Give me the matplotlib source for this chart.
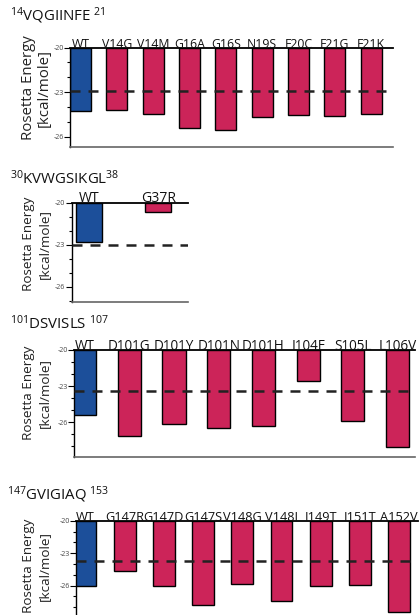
import matplotlib
matplotlib.use("Agg")
import matplotlib.pyplot as plt
from matplotlib import font_manager
from matplotlib.ticker import MultipleLocator, FixedLocator

plt.rcParams['font.family'] = ['Open Sans', 'DejaVu Sans']
plt.rcParams['mathtext.fontset'] = 'custom'
plt.rcParams['mathtext.rm'] = 'Open Sans'

_names = {f.name for f in font_manager.fontManager.ttflist}
if 'Liberation Sans Narrow' in _names:
    LAB_FAMILY, LAB_SCALE = ['Liberation Sans Narrow', 'DejaVu Sans'], 1.0
else:
    LAB_FAMILY, LAB_SCALE = ['Open Sans', 'DejaVu Sans'], 0.82

# ---- data ----
p1_title = r"$\mathregular{^{14}}$VQGIINFE $\mathregular{^{21}}$"
p1_labels = ["WT", "V14G", "V14M", "G16A", "G16S", "N19S", "F20C", "F21G", "F21K"]
p1_values = [-24.27, -24.2, -24.49, -25.39, -25.53, -24.7, -24.56, -24.58, -24.47]
p1_ref = -22.92

p2_title = r"$\mathregular{^{30}}$KVWGSIKGL$\mathregular{^{38}}$"
p2_labels = ["WT", "G37R"]
p2_values = [-22.84, -20.66]
p2_ref = -23.0

p3_title = r"$\mathregular{^{101}}$DSVISLS $\mathregular{^{107}}$"
p3_labels = ["WT", "D101G", "D101Y", "D101N", "D101H", "I104F", "S105L", "L106V"]
p3_values = [-25.43, -27.17, -26.15, -26.45, -26.3, -22.6, -25.93, -28.05]
p3_ref = -23.4

p4_title = r"$\mathregular{^{147}}$GVIGIAQ $\mathregular{^{153}}$"
p4_labels = ["WT", "G147R", "G147D", "G147S", "V148G", "V148I", "I149T", "I151T", "A152V"]
p4_values = [-26.0, -24.68, -26.05, -27.8, -25.84, -27.43, -26.05, -25.95, -28.41]
p4_ref = -23.7

WT_COLOR = "#1c4f9a"
MUT_COLOR = "#cc2459"

W, H = 420, 615
fig = plt.figure(figsize=(W / 100, H / 100), dpi=100)


def panel(left, right, top, bottom, ymin, xlo, xhi, width,
          labels, values, ref, title, title_xy, ylab_y, label_fs, ylab_fs):
    ax = fig.add_axes([left / W, 1 - bottom / H, (right - left) / W, (bottom - top) / H])
    xs = list(range(len(labels)))
    colors = [WT_COLOR] + [MUT_COLOR] * (len(labels) - 1)
    heights = [v - (-20) for v in values]
    ax.bar(xs, heights, bottom=-20, width=width, color=colors,
           edgecolor="black", linewidth=1.0, zorder=2)
    ax.axhline(ref, color="#222222", lw=1.8, ls=(0, (4, 3.2)), zorder=3)
    ax.set_xlim(xlo, xhi)
    ax.set_ylim(ymin, -20)
    ax.set_xticks([])
    ax.yaxis.set_major_locator(FixedLocator([-20, -23, -26]))
    ax.yaxis.set_minor_locator(MultipleLocator(1))
    ax.tick_params(axis='y', which='major', length=4, width=0.8, labelsize=5,
                   labelcolor="#444444", pad=0.5)
    ax.tick_params(axis='y', which='minor', length=2.5, width=0.8)
    ax.set_yticklabels(["-20", "-23", "-26"])
    ax.spines['right'].set_visible(False)
    ax.spines['top'].set_color("black")
    ax.spines['top'].set_linewidth(1.3)
    ax.spines['left'].set_linewidth(1.0)
    ax.spines['bottom'].set_color("#666666")
    ax.spines['bottom'].set_linewidth(1.2)
    for x, lab in zip(xs, labels):
        ax.text(x, -20.0, lab, ha='center', va='baseline', fontsize=label_fs * LAB_SCALE,
                family=LAB_FAMILY, color="#111111", zorder=4)
    fig.text(title_xy[0] / W, 1 - title_xy[1] / H, title, fontsize=10.8,
             ha='left', va='baseline', color="#111111")
    fig.text(28.5 / W, 1 - ylab_y / H, "Rosetta Energy", rotation=90, fontsize=ylab_fs,
             ha='center', va='center', color="#222222")
    fig.text(44 / W, 1 - ylab_y / H, "[kcal/mole]", rotation=90, fontsize=ylab_fs,
             ha='center', va='center', color="#222222")
    return ax


panel(70, 393, 47.5, 146.7, -26.67, -0.29, 8.6, 0.58,
      p1_labels, p1_values, p1_ref, p1_title, (10, 20), 88, 10.8, 10.8)
panel(71.7, 188, 202.5, 301.7, -27.07, -0.25, 1.43, 0.37,
      p2_labels, p2_values, p2_ref, p2_title, (10, 184), 244, 12.3, 9.7)
panel(74, 415, 350, 456.7, -28.87, -0.24, 7.39, 0.52,
      p3_labels, p3_values, p3_ref, p3_title, (10, 328.5), 393, 11.9, 9.7)
panel(76, 418, 520.7, 617, -28.9, -0.24, 8.48, 0.56,
      p4_labels, p4_values, p4_ref, p4_title, (7, 499.5), 566, 11.2, 9.7)

fig.savefig("out.png", dpi=100)
